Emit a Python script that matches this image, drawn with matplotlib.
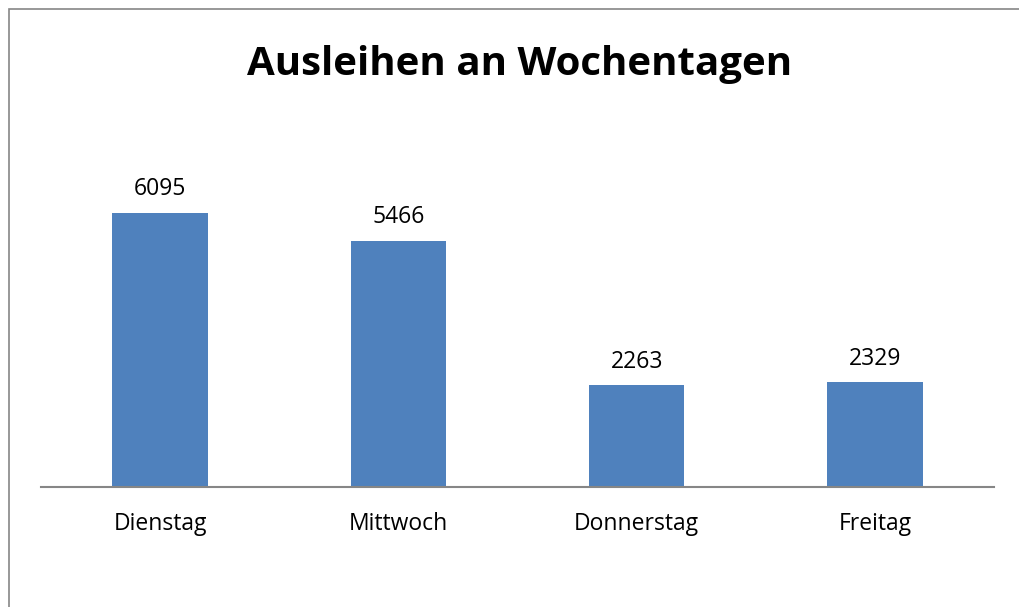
import matplotlib.pyplot as plt
from matplotlib.patches import Rectangle

days = ["Dienstag", "Mittwoch", "Donnerstag", "Freitag"]
loans = [6095, 5466, 2263, 2329]

plt.rcParams["font.family"] = ["Open Sans", "DejaVu Sans"]

fig = plt.figure(figsize=(10.19, 6.07), dpi=100)
ax = fig.add_axes([41 / 1019, 120 / 607, 953 / 1019, 315 / 607])

x = range(len(days))
bars = ax.bar(x, loans, width=0.4, color="#4F81BD")
for rect, val in zip(bars, loans):
    ax.annotate(str(val), (rect.get_x() + rect.get_width() / 2, rect.get_height()),
                xytext=(0, 17), textcoords="offset points",
                ha="center", va="center", fontsize=16.5)

ax.set_xlim(-0.5, len(days) - 0.5)
ax.set_ylim(0, 7000)
ax.set_xticks(list(x))
ax.set_xticklabels(days, fontsize=16.5)
ax.tick_params(axis="x", length=0, pad=18)
ax.set_yticks([])
for side in ["top", "left", "right"]:
    ax.spines[side].set_visible(False)
ax.spines["bottom"].set_color("#868686")
ax.spines["bottom"].set_linewidth(1.5)

fig.text(520 / 1019, 1 - 64 / 607, "Ausleihen an Wochentagen",
         ha="center", va="center", fontsize=29, fontweight="bold")

# outer chart frame
fig.patches.append(Rectangle((9 / 1019, -0.1), 1.1, 1 - 9 / 607 + 0.1,
                             transform=fig.transFigure, fill=False,
                             edgecolor="#868686", linewidth=1.2))

fig.savefig("out.png", dpi=100)
